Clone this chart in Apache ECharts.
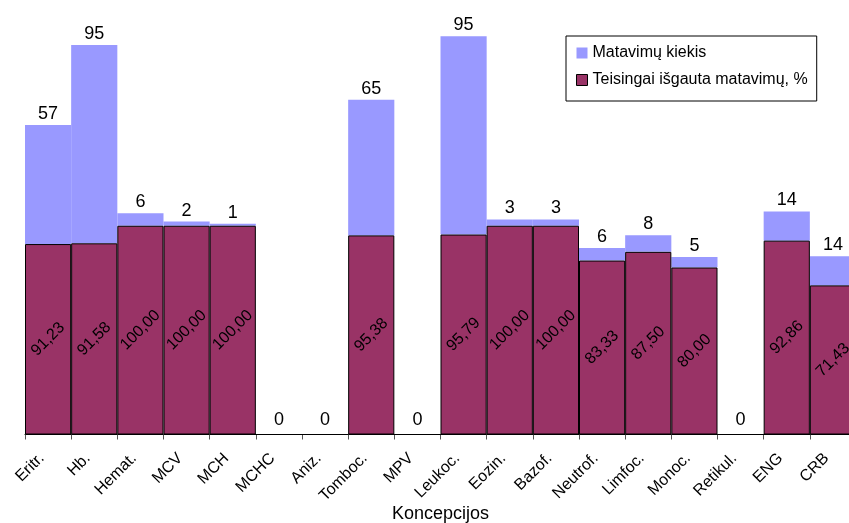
<!DOCTYPE html>
<html>
<head>
<meta charset="utf-8">
<script src="https://cdn.jsdelivr.net/npm/echarts@6/dist/echarts.min.js"></script>
<style>
  html, body { margin: 0; padding: 0; background: #fff; }
  #chart { width: 849px; height: 523px; }
</style>
</head>
<body>
<div id="chart"></div>
<script>
// Blood test concepts and measurement results
const categories = ['Eritr.', 'Hb.', 'Hemat.', 'MCV', 'MCH', 'MCHC', 'Aniz.', 'Tomboc.', 'MPV',
  'Leukoc.', 'Eozin.', 'Bazof.', 'Neutrof.', 'Limfoc.', 'Monoc.', 'Retikul.', 'ENG', 'CRB'];

// Share of measurements extracted correctly, %
const correctPercent = [91.23, 91.58, 100.00, 100.00, 100.00, 0, 0, 95.38, 0,
  95.79, 100.00, 100.00, 83.33, 87.50, 80.00, 0, 92.86, 71.43];

// Number of measurements
const measurementCount = [57, 95, 6, 2, 1, 0, 0, 65, 0,
  95, 3, 3, 6, 8, 5, 0, 14, 14];

const seriesNames = ['Matavimų kiekis', 'Teisingai išgauta matavimų, %'];
const axisTitle = 'Koncepcijos';

const FONT = '"Liberation Sans", Arial, sans-serif';

const chart = echarts.init(document.getElementById('chart'), null, { renderer: 'canvas' });

chart.setOption({
  animation: false,
  textStyle: { fontFamily: FONT },
  grid: { left: 25, right: -7, top: 17, bottom: 88.5, containLabel: false, outerBoundsMode: 'none' },
  legend: {
    orient: 'vertical',
    left: 566,
    top: 36,
    padding: [9, 9, 13, 10],
    itemGap: 11,
    itemWidth: 11,
    itemHeight: 11,
    borderColor: '#000',
    borderWidth: 1,
    icon: 'rect',
    textStyle: { fontFamily: FONT, fontSize: 16, color: '#000', lineHeight: 16, padding: [0, 0, 0, 0] },
    data: [
      { name: seriesNames[0], itemStyle: { color: '#9999FF', borderWidth: 0 } },
      { name: seriesNames[1], itemStyle: { color: '#993366', borderColor: '#000', borderWidth: 1 } }
    ]
  },
  xAxis: {
    type: 'category',
    data: categories,
    boundaryGap: true,
    name: axisTitle,
    nameLocation: 'middle',
    nameGap: 71,
    nameMoveOverlap: false,
    nameTextStyle: { fontFamily: FONT, fontSize: 18, color: '#000' },
    axisLine: { lineStyle: { color: '#000', width: 1 } },
    axisTick: { show: true, length: 5, lineStyle: { color: '#555' } },
    axisLabel: {
      interval: 0,
      rotate: 45,
      margin: 15,
      padding: [0, 9, 0, 0],
      fontFamily: FONT,
      fontSize: 16,
      color: '#000'
    }
  },
  yAxis: {
    type: 'value',
    min: 0,
    max: 200,
    show: false,
    splitLine: { show: false }
  },
  series: [
    {
      name: seriesNames[1],
      type: 'bar',
      stack: 'total',
      barCategoryGap: '0%',
      data: correctPercent,
      itemStyle: { color: '#993366', borderColor: '#000', borderWidth: 1 },
      label: {
        show: true,
        position: 'inside',
        rotate: 45,
        fontFamily: FONT,
        fontSize: 16,
        color: '#000',
        formatter: p => p.value === 0 ? '' : p.value.toFixed(2).replace('.', ',')
      },
      z: 3
    },
    {
      name: seriesNames[0],
      type: 'bar',
      stack: 'total',
      barCategoryGap: '0%',
      data: measurementCount.map(v => ({
        value: v,
        label: { distance: v === 0 ? 5 : 2 }
      })),
      itemStyle: { color: '#9999FF', borderWidth: 0 },
      label: {
        show: true,
        position: 'top',
        fontFamily: FONT,
        fontSize: 18,
        color: '#000',
        formatter: p => String(p.value)
      },
      z: 2
    }
  ]
});
</script>
</body>
</html>
